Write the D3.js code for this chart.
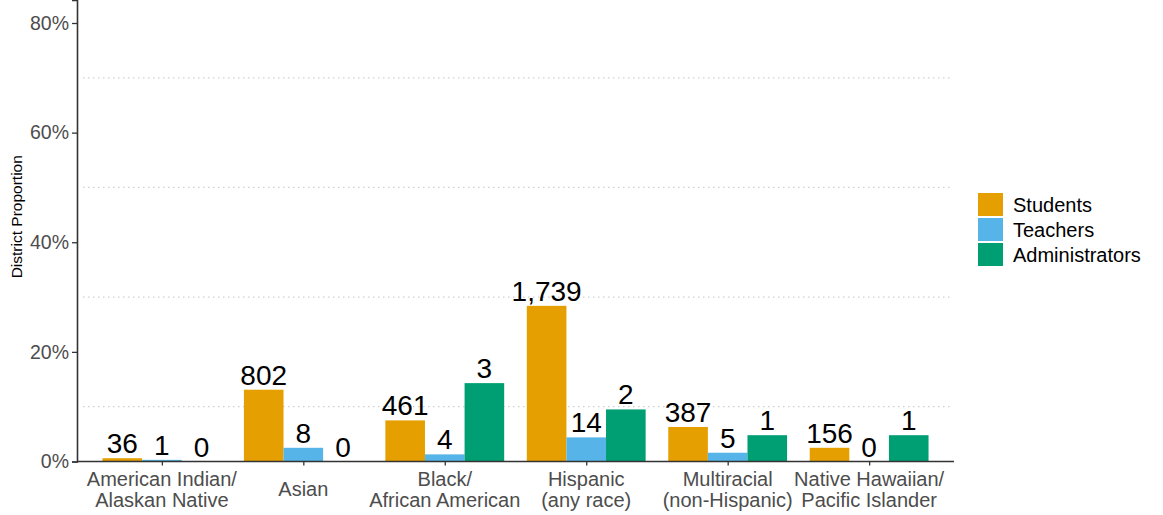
<!DOCTYPE html>
<html>
<head>
<meta charset="utf-8">
<script src="https://cdn.jsdelivr.net/npm/d3@7"></script>
<style>
  html, body { margin: 0; padding: 0; background: #fff; }
  svg { display: block; }
  text { font-family: "Liberation Sans", Arial, sans-serif; }
</style>
</head>
<body>
<svg id="chart" width="1163" height="515"></svg>
<script>
// ---- Data ----
const categories = [
  "American Indian/\nAlaskan Native",
  "Asian",
  "Black/\nAfrican American",
  "Hispanic\n(any race)",
  "Multiracial\n(non-Hispanic)",
  "Native Hawaiian/\nPacific Islander"
];
const seriesNames = ["Students", "Teachers", "Administrators"];
const studentsPct = [0.006, 0.131, 0.075, 0.284, 0.063, 0.025];
const teachersPct = [0.003, 0.025, 0.013, 0.044, 0.016, 0.0];
const adminsPct   = [0.0, 0.0, 0.143, 0.095, 0.048, 0.048];
const studentsN = [36, 802, 461, 1739, 387, 156];
const teachersN = [1, 8, 4, 14, 5, 0];
const adminsN   = [0, 0, 3, 2, 1, 1];
const yTicks = [0, 0.2, 0.4, 0.6, 0.8];
const yGrid = [0.1, 0.3, 0.5, 0.7];
const colors = ["#E69F00", "#56B4E9", "#009E73"];

const pctSeries = [studentsPct, teachersPct, adminsPct];
const nSeries = [studentsN, teachersN, adminsN];
const rows = [];
categories.forEach((c, i) => {
  seriesNames.forEach((s, j) => {
    rows.push({cat: c, series: s, pct: pctSeries[j][i], n: nSeries[j][i]});
  });
});

// ---- Layout ----
const svg = d3.select("#chart");
const mLeft = 77, mRight = 954, mTop = 0, mBottom = 461.5;

const x = d3.scalePoint().domain(categories).range([mLeft, mRight]).padding(0.6);
const groupW = x.step() * 0.84;
const xs = d3.scaleBand().domain(seriesNames).range([-groupW / 2, groupW / 2]);
const y = d3.scaleLinear().domain([0, 0.8 * (mBottom - mTop) / (mBottom - 23)]).range([mBottom, mTop]);
const color = d3.scaleOrdinal().domain(seriesNames).range(colors);

// gridlines (dotted minor)
svg.append("g").selectAll("line").data(yGrid).join("line")
  .attr("x1", mLeft + 6).attr("x2", mRight - 2)
  .attr("y1", d => y(d)).attr("y2", d => y(d))
  .attr("stroke", "#cfcfcf").attr("stroke-width", 1.2)
  .attr("stroke-dasharray", "1.5,3.5");

// bars
svg.append("g").selectAll("rect").data(rows).join("rect")
  .attr("x", d => x(d.cat) + xs(d.series))
  .attr("width", xs.bandwidth())
  .attr("y", d => y(d.pct))
  .attr("height", d => y(0) - y(d.pct))
  .attr("fill", d => color(d.series));

// value labels
svg.append("g").selectAll("text").data(rows).join("text")
  .attr("x", d => x(d.cat) + xs(d.series) + xs.bandwidth() / 2)
  .attr("y", d => y(d.pct) - 5)
  .attr("text-anchor", "middle")
  .attr("font-size", 28)
  .attr("fill", "#000")
  .text(d => d3.format(",")(d.n));

// y axis
const yAxis = d3.axisLeft(y).tickValues(yTicks).tickFormat(d3.format(".0%")).tickSize(5).tickPadding(3);
const gy = svg.append("g").attr("transform", `translate(${mLeft},0)`).call(yAxis);
gy.select(".domain").attr("stroke", "#333").attr("stroke-width", 1.6);
gy.selectAll(".tick line").attr("stroke", "#333").attr("stroke-width", 1.3);
gy.selectAll(".tick text").attr("font-size", 19.5).attr("fill", "#4d4d4d")
  .attr("font-family", "'Liberation Sans', Arial, sans-serif");

// x axis
const xAxis = d3.axisBottom(x).tickSize(4).tickFormat("");
const gx = svg.append("g").attr("transform", `translate(0,${mBottom})`).call(xAxis);
gx.select(".domain").attr("stroke", "#333").attr("stroke-width", 1.6).attr("d", `M${mLeft},0H${mRight}`);
gx.selectAll(".tick line").attr("stroke", "#333").attr("stroke-width", 1.3);

// x labels (multi-line)
const xl = svg.append("g").selectAll("text").data(categories).join("text")
  .attr("text-anchor", "middle")
  .attr("font-size", 20)
  .attr("fill", "#4d4d4d")
  .attr("transform", d => `translate(${x(d)},0)`);
xl.each(function(d) {
  const lines = d.split("\n");
  const base = lines.length === 1 ? 496 : 486;
  d3.select(this).selectAll("tspan").data(lines).join("tspan")
    .attr("x", 0).attr("y", (l, i) => base + i * 21).text(l => l);
});

// y title
svg.append("text")
  .attr("transform", `translate(22,${(mBottom + mTop) / 2 - 14}) rotate(-90)`)
  .attr("text-anchor", "middle")
  .attr("font-size", 15.5)
  .attr("fill", "#000")
  .text("District Proportion");

// legend
const lg = svg.append("g").attr("transform", "translate(978,193)");
const items = lg.selectAll("g").data(seriesNames).join("g")
  .attr("transform", (d, i) => `translate(0,${i * 25})`);
items.append("rect").attr("width", 25).attr("height", 23).attr("fill", d => color(d));
items.append("text").attr("x", 35).attr("y", 12).attr("dy", "0.35em")
  .attr("font-size", 20).attr("fill", "#000").text(d => d);
</script>
</body>
</html>
